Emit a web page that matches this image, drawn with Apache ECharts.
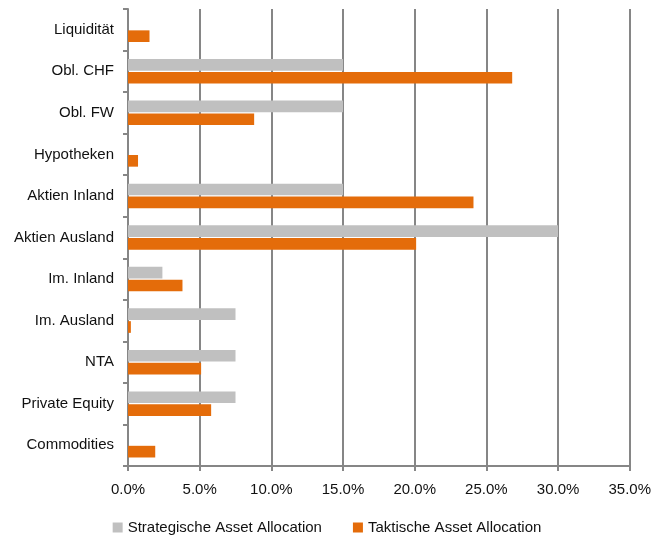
<!DOCTYPE html>
<html>
<head>
<meta charset="utf-8">
<style>html,body{margin:0;padding:0;background:#fff}#main{width:654px;height:542px}</style>
<script src="https://cdn.jsdelivr.net/npm/echarts@6/dist/echarts.min.js"></script>
</head>
<body>
<div id="main"></div>
<script>
var categories = ['Liquidität', 'Obl. CHF', 'Obl. FW', 'Hypotheken', 'Aktien Inland', 'Aktien Ausland', 'Im. Inland', 'Im. Ausland', 'NTA', 'Private Equity', 'Commodities'];
var strategisch = [0, 15, 15, 0, 15, 30, 2.4, 7.5, 7.5, 7.5, 0];
var taktisch = [1.5, 26.8, 8.8, 0.7, 24.1, 20.1, 3.8, 0.2, 5.1, 5.8, 1.9];
var xTicks = [0, 5, 10, 15, 20, 25, 30, 35];

var chart = echarts.init(document.getElementById('main'));
var font = 'Liberation Sans, Arial, sans-serif';
chart.setOption({
    animation: false,
    textStyle: { fontFamily: font },
    grid: { left: 128, right: 24, top: 9, bottom: 76 },
    legend: {
        bottom: 2,
        left: 'center',
        itemWidth: 10,
        itemHeight: 10,
        itemGap: 31,
        icon: 'rect',
        textStyle: { fontSize: 15, color: '#111', fontFamily: font },
        data: ['Strategische Asset Allocation', 'Taktische Asset Allocation']
    },
    xAxis: {
        type: 'value',
        min: xTicks[0],
        max: xTicks[xTicks.length - 1],
        interval: 5,
        axisLine: { show: true, lineStyle: { color: '#868686', width: 2 } },
        axisTick: { show: true, length: 5, lineStyle: { color: '#868686', width: 2 } },
        splitLine: { show: true, lineStyle: { color: '#868686', width: 2 } },
        axisLabel: {
            margin: 16,
            fontSize: 15,
            color: '#111',
            formatter: function (v) { return v.toFixed(1) + '%'; }
        }
    },
    yAxis: {
        type: 'category',
        inverse: true,
        data: categories,
        axisLine: { show: true, lineStyle: { color: '#868686', width: 2 } },
        axisTick: { show: true, length: 5, lineStyle: { color: '#868686', width: 2 } },
        axisLabel: { margin: 14, fontSize: 15, color: '#111' }
    },
    series: [
        {
            name: 'Strategische Asset Allocation',
            type: 'bar',
            data: strategisch,
            itemStyle: { color: '#C0C0C0' },
            barGap: '10%',
            barCategoryGap: '41%'
        },
        {
            name: 'Taktische Asset Allocation',
            type: 'bar',
            data: taktisch,
            itemStyle: { color: '#E46C0A' },
            barGap: '10%',
            barCategoryGap: '41%'
        }
    ]
});
</script>
</body>
</html>
